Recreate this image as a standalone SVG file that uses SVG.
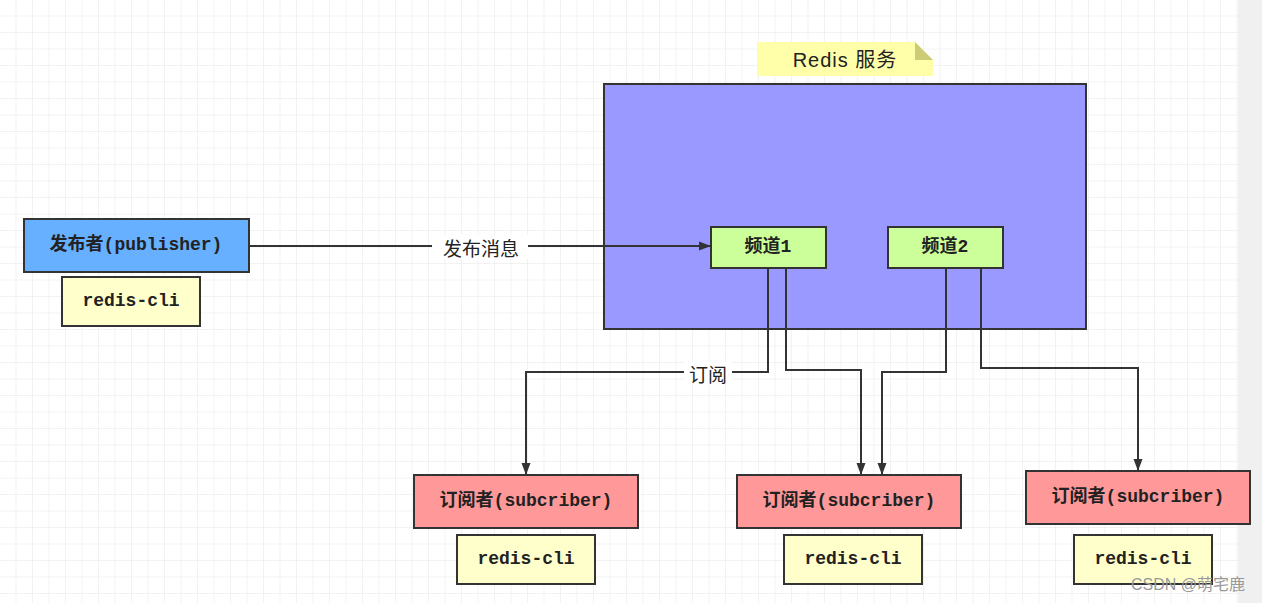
<svg xmlns="http://www.w3.org/2000/svg" width="1262" height="603" viewBox="0 0 1262 603">
<defs>
<pattern id="g" width="16.5" height="16.5" patternUnits="userSpaceOnUse"><path d="M16.5 0V16.5H0" fill="none" stroke="#e6e6e6" stroke-width="1"/></pattern>
<marker id="a" markerWidth="12" markerHeight="12" refX="11" refY="6" orient="auto" markerUnits="userSpaceOnUse"><path d="M0 1.5L12 6L0 10.5Z" fill="#333"/></marker>
<style>
.b{stroke:#333;stroke-width:2}
.t{font-family:"Liberation Mono","Noto Sans CJK SC",monospace;font-size:18px;font-weight:bold;fill:#222;text-anchor:middle;dominant-baseline:central}
.c{fill:none;stroke:#333;stroke-width:2;marker-end:url(#a)}
.l{font-family:"Noto Sans CJK SC",serif;font-size:19px;fill:#222;text-anchor:middle;dominant-baseline:central}
</style>
</defs>
<rect width="1262" height="603" fill="#fff"/>
<rect width="1238" height="603" fill="url(#g)"/>
<rect x="1238" width="24" height="603" fill="#f0f0f0"/>
<g id="note"><path d="M757 42H915L933 60V76H757Z" fill="#ffffaa"/><path d="M915 42V60H933Z" fill="#cccc77"/><text class="t" x="845" y="60" style="font-weight:normal;font-family:'Liberation Sans','Noto Sans CJK SC',sans-serif;font-size:20px;letter-spacing:1px">Redis 服务</text></g>
<g id="redis"><rect class="b" x="604" y="84" width="482" height="245" fill="#9999ff"/></g>
<g id="pub"><rect class="b" x="24" y="219" width="225" height="53" fill="#66b0ff"/><text class="t" x="136" y="245">发布者(publisher)</text></g>
<g id="pubcli"><rect class="b" x="62" y="277" width="138" height="49" fill="#ffffcc"/><text class="t" x="131" y="301">redis-cli</text></g>
<g id="ch1"><rect class="b" x="711" y="227" width="115" height="41" fill="#ccff99"/><text class="t" x="768" y="247">频道1</text></g>
<g id="ch2"><rect class="b" x="888" y="227" width="115" height="41" fill="#ccff99"/><text class="t" x="945" y="247">频道2</text></g>
<g id="s1"><rect class="b" x="414" y="475" width="224" height="53" fill="#ff9999"/><text class="t" x="526" y="501">订阅者(subcriber)</text></g>
<g id="s2"><rect class="b" x="737" y="475" width="224" height="53" fill="#ff9999"/><text class="t" x="849" y="501">订阅者(subcriber)</text></g>
<g id="s3"><rect class="b" x="1026" y="471" width="224" height="53" fill="#ff9999"/><text class="t" x="1138" y="497">订阅者(subcriber)</text></g>
<g id="c1"><rect class="b" x="457" y="535" width="138" height="49" fill="#ffffcc"/><text class="t" x="526" y="559">redis-cli</text></g>
<g id="c2"><rect class="b" x="784" y="535" width="138" height="49" fill="#ffffcc"/><text class="t" x="853" y="559">redis-cli</text></g>
<g id="c3"><rect class="b" x="1074" y="535" width="138" height="49" fill="#ffffcc"/><text class="t" x="1143" y="559">redis-cli</text></g>
<g id="connectors">
<path class="c" d="M249 246H710"/>
<rect x="432" y="235" width="96" height="24" fill="#fff"/>
<text class="l" x="481" y="247">发布消息</text>
<path class="c" d="M768 268V372H526V474"/>
<rect x="684" y="362" width="48" height="22" fill="#fff"/>
<text class="l" x="708" y="373">订阅</text>
<path class="c" d="M786 268V370H861V474"/>
<path class="c" d="M946 268V372H882V474"/>
<path class="c" d="M981 268V368H1138V470"/>
</g>
<text x="1188" y="590" style="font-family:'Liberation Sans','Noto Sans CJK SC',sans-serif;font-size:16px;fill:#999;text-anchor:middle">CSDN @萌宅鹿</text>
</svg>
